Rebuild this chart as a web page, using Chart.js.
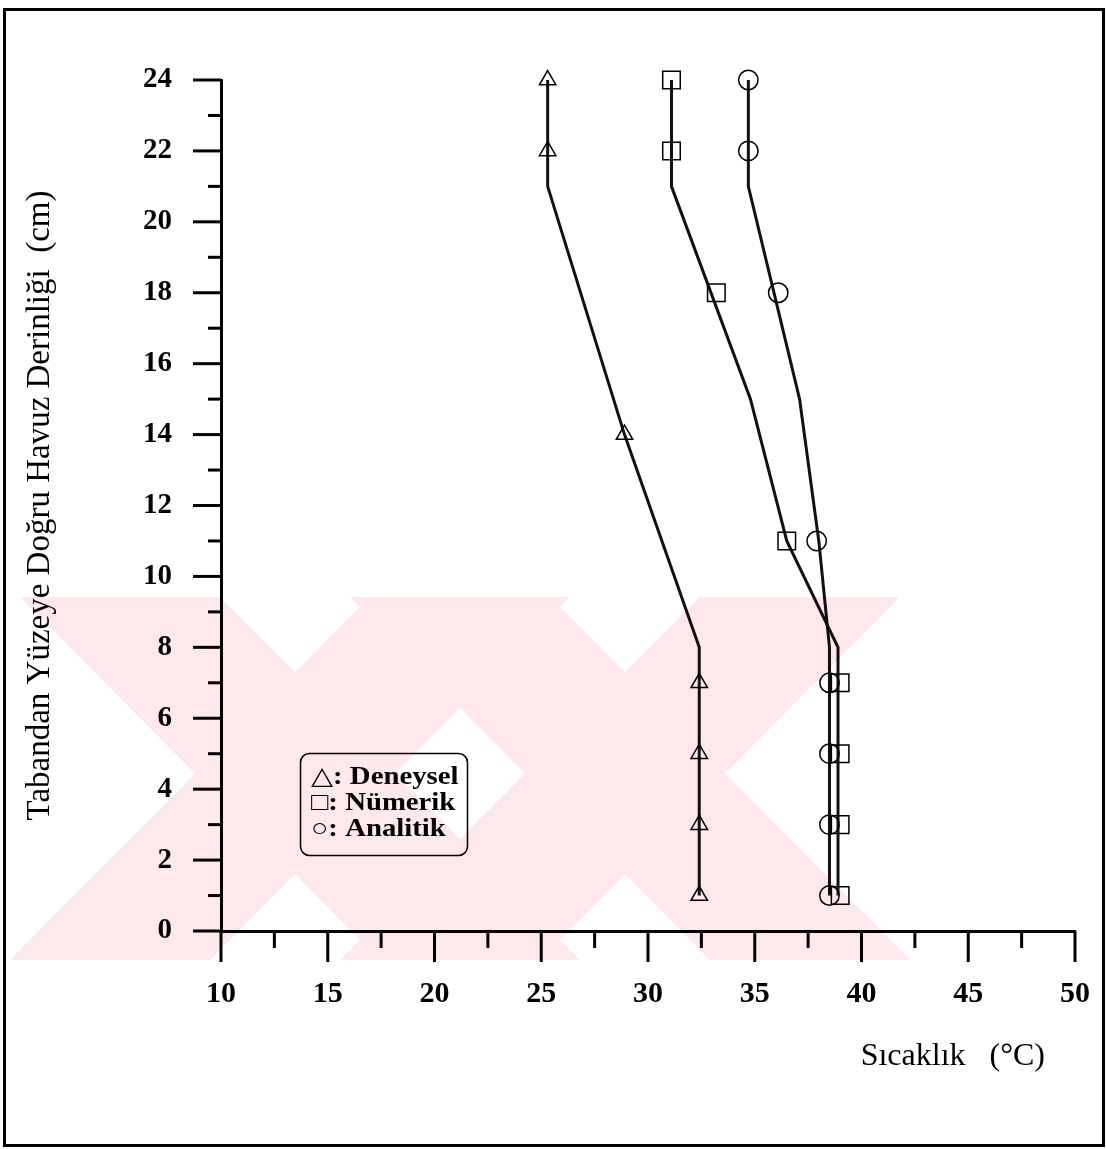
<!DOCTYPE html>
<html>
<head>
<meta charset="utf-8">
<title>Havuz sıcaklık dağılımı</title>
<script src="https://cdn.jsdelivr.net/npm/chart.js"></script>
<style>
  html, body { margin: 0; padding: 0; background: #fff; }
</style>
</head>
<body>
<canvas id="myChart" width="1106" height="1149"></canvas>
<script>
    // ölçülen / hesaplanan noktalar: derinlik (cm), sıcaklık (°C)
    var deneyselDepth = [24, 22, 14, 7, 5, 3, 1];
    var deneyselTemp  = [25.3, 25.3, 28.9, 32.4, 32.4, 32.4, 32.4];
    var numerikDepth  = [24, 22, 18, 11, 7, 5, 3, 1];
    var numerikTemp   = [31.1, 31.1, 33.2, 36.5, 39.0, 39.0, 39.0, 39.0];
    var analitikDepth = [24, 22, 18, 11, 7, 5, 3, 1];
    var analitikTemp  = [34.7, 34.7, 36.1, 37.9, 38.5, 38.5, 38.5, 38.5];

    // çizgiler (eğriler)
    var deneyselCurveDepth = [24, 21, 14, 8, 1];
    var deneyselCurveTemp  = [25.3, 25.3, 28.9, 32.4, 32.4];
    var numerikCurveDepth  = [24, 21, 15, 11, 8, 1];
    var numerikCurveTemp   = [31.1, 31.1, 34.8, 36.5, 38.9, 38.9];
    var analitikCurveDepth = [24, 21, 15, 11, 8, 1];
    var analitikCurveTemp  = [34.7, 34.7, 37.1, 38.0, 38.5, 38.5];

    var xLabelStep = 5;   // 10, 15, ... 50
    var yLabelStep = 2;   // 0, 2, ... 24
    var legendLabels = ['△: Deneysel', '□: Nümerik', '○: Analitik'];
    var xTitle = 'Sıcaklık   (°C)';
    var yTitle = 'Tabandan Yüzeye Doğru Havuz Derinliği  (cm)';

    function pts(xs, ys) {
        return xs.map(function (x, i) { return {x: x, y: ys[i]}; });
    }

    function markerSet(label, xs, ys, style, r) {
        return {
            label: label, data: pts(xs, ys), showLine: false,
            pointStyle: style, pointRadius: r, pointHoverRadius: r,
            pointBorderColor: '#000', pointBackgroundColor: 'rgba(0,0,0,0)',
            pointBorderWidth: 1.5, clip: false
        };
    }

    function curveSet(xs, ys) {
        return {
            data: pts(xs, ys), showLine: true, borderColor: '#111',
            borderWidth: 3, pointRadius: 0, tension: 0, fill: false
        };
    }

    // kağıt çerçevesi, filigran, küçük/büyük tik çizgileri, açıklama kutusu
    var decor = {
        id: 'decor',
        beforeDraw: function (chart) {
            var c = chart.ctx;
            c.save();
            c.fillStyle = '#fff';
            c.fillRect(0, 0, chart.width, chart.height);
            c.beginPath();
            c.rect(0, 597, chart.width, 363);
            c.clip();
            c.fillStyle = 'rgb(253,232,236)';
            [0, 330].forEach(function (s) {
                [[20, 220, 580, 380], [370, 570, 210, 10]].forEach(function (b) {
                    c.beginPath();
                    c.moveTo(b[0] + s, 597); c.lineTo(b[1] + s, 597);
                    c.lineTo(b[2] + s, 960); c.lineTo(b[3] + s, 960);
                    c.closePath(); c.fill();
                });
            });
            c.restore();
        },
        afterDraw: function (chart) {
            var c = chart.ctx, xs = chart.scales.x, ys = chart.scales.y;
            var a = chart.chartArea;
            c.save();
            c.strokeStyle = '#000';
            c.lineWidth = 3;
            c.strokeRect(4.5, 9.5, 1099, 1136);

            for (var v = ys.min; v <= ys.max; v++) {
                var py = ys.getPixelForValue(v);
                var len = v % yLabelStep === 0 ? 28 : 13;
                c.beginPath(); c.moveTo(a.left - len, py); c.lineTo(a.left, py); c.stroke();
            }
            for (var t = xs.min; t <= xs.max; t += 2.5) {
                var px = xs.getPixelForValue(t);
                var l2 = t % xLabelStep === 0 ? 31 : 17;
                c.beginPath(); c.moveTo(px, a.bottom); c.lineTo(px, a.bottom + l2); c.stroke();
            }

            c.fillStyle = '#000';
            c.font = '32px "Liberation Serif"';
            c.textAlign = 'right';
            c.textBaseline = 'middle';
            c.fillText(xTitle, 1045, 1057);

            c.lineWidth = 1.5;
            c.beginPath();
            c.roundRect(300.5, 753.5, 167, 102, 9);
            c.stroke();
            c.font = 'bold 25px "Liberation Serif", "DejaVu Serif"';
            c.textAlign = 'left';
            legendLabels.forEach(function (txt, i) {
                c.save();
                c.translate(311, 778 + i * 26);
                c.scale(1.15, 1);
                c.fillText(txt, 0, 0);
                c.restore();
            });
            c.restore();
        }
    };

    var ctx = document.getElementById('myChart').getContext('2d');
    var chart = new Chart(ctx, {
        type: 'scatter',
        data: {
            datasets: [
                markerSet('Deneysel', deneyselTemp, deneyselDepth, 'triangle', 9.5),
                markerSet('Nümerik', numerikTemp, numerikDepth, 'rect', 12.4),
                markerSet('Analitik', analitikTemp, analitikDepth, 'circle', 9.7),
                curveSet(deneyselCurveTemp, deneyselCurveDepth),
                curveSet(numerikCurveTemp, numerikCurveDepth),
                curveSet(analitikCurveTemp, analitikCurveDepth)
            ]
        },
        options: {
            responsive: false,
            animation: false,
            devicePixelRatio: 1,
            events: [],
            layout: { padding: { top: 80, right: 31, left: 0, bottom: 0 } },
            plugins: { legend: { display: false }, tooltip: { enabled: false } },
            scales: {
                x: {
                    type: 'linear', position: 'bottom', min: 10, max: 50,
                    grid: { display: false },
                    border: { display: true, color: '#000', width: 3 },
                    afterFit: function (s) { s.height = 218; s.paddingRight = 0; s.paddingLeft = 0; },
                    ticks: {
                        stepSize: 2.5, autoSkip: false, maxRotation: 0, padding: 37,
                        color: '#000',
                        font: { family: '"Liberation Serif"', size: 30, weight: 'bold', lineHeight: 1.2 },
                        callback: function (v) { return v % xLabelStep === 0 ? v : ''; }
                    }
                },
                y: {
                    type: 'linear', position: 'left', min: 0, max: 24,
                    grid: { display: false },
                    border: { display: true, color: '#000', width: 3 },
                    afterFit: function (s) { s.width = 221; s.paddingTop = 0; s.paddingBottom = 0; },
                    title: {
                        display: true, text: yTitle, color: '#000',
                        font: { family: '"Liberation Serif"', size: 33, lineHeight: 1.2 },
                        padding: { top: 21, bottom: 0 }
                    },
                    ticks: {
                        stepSize: 1, autoSkip: false, padding: 41, color: '#000',
                        font: { family: '"Liberation Serif"', size: 29, weight: 'bold', lineHeight: 1.2 },
                        callback: function (v) { return v % yLabelStep === 0 ? v : ''; }
                    }
                }
            }
        },
        plugins: [decor]
    });
</script>
</body>
</html>
